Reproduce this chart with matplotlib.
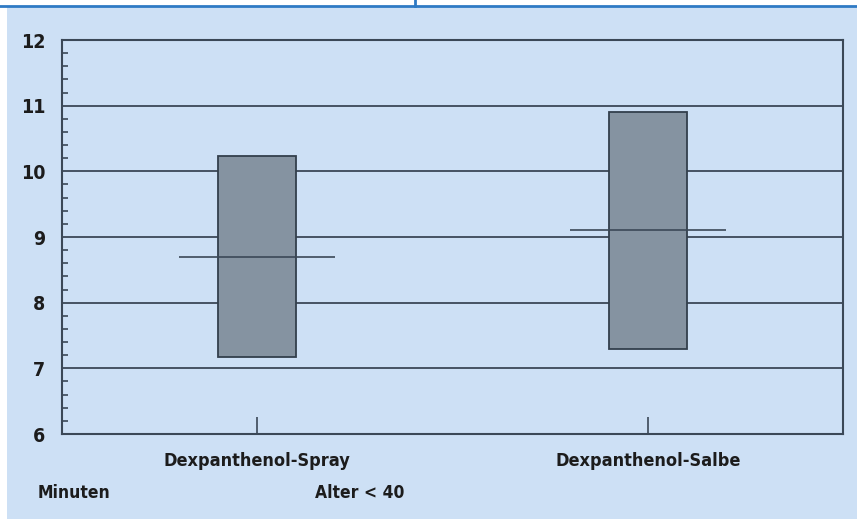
import matplotlib

matplotlib.use("Agg")

import matplotlib.pyplot as plt
from matplotlib.patches import Rectangle
from matplotlib.ticker import MultipleLocator

categories = ["Dexpanthenol-Spray", "Dexpanthenol-Salbe"]
box_low = [7.17, 7.30]
box_high = [10.23, 10.90]
medians = [8.69, 9.11]
y_ticks = [6, 7, 8, 9, 10, 11, 12]

bg = "#cde0f5"
ink = "#1c1c1c"
line_col = "#3b4857"
box_face = "#8593a1"
frame_blue = "#2f7ac4"

plt.rcParams["font.family"] = ["DejaVu Sans"]
plt.rcParams["font.stretch"] = "condensed"

W, H = 857, 519
fig = plt.figure(figsize=(W / 100, H / 100), dpi=100)
fig.patch.set_facecolor("white")

# light blue panel and top rule
fig.patches.append(Rectangle((7 / W, 0), 1 - 7 / W, 1 - 7 / H,
                             transform=fig.transFigure, facecolor=bg,
                             edgecolor="none", zorder=-5))
fig.add_artist(plt.Line2D([0, 1], [1 - 6 / H] * 2, transform=fig.transFigure,
                          color=frame_blue, linewidth=2))
fig.add_artist(plt.Line2D([415 / W] * 2, [1 - 6 / H, 1], transform=fig.transFigure,
                          color=frame_blue, linewidth=2))

left, right, top, bottom = 62, 843, 40, 434
ax = fig.add_axes([left / W, 1 - bottom / H, (right - left) / W, (bottom - top) / H])
ax.set_facecolor("none")
ax.set_zorder(2)

positions = [1, 3]
for pos, lo, hi, med in zip(positions, box_low, box_high, medians):
    ax.bar(pos, hi - lo, bottom=lo, width=0.4, color=box_face,
           edgecolor="#333f4c", linewidth=1.3, zorder=3)
    ax.hlines(med, pos - 0.4, pos + 0.4, color=line_col, linewidth=1.2, zorder=4)

for y in y_ticks[1:-1]:
    ax.axhline(y, color=line_col, linewidth=1.3, zorder=1)

ax.set_xlim(0, 4)
ax.set_ylim(6, 12)
ax.set_yticks(y_ticks)
ax.yaxis.set_minor_locator(MultipleLocator(0.2))
ax.set_xticks(positions)
ax.set_xticklabels(categories)

for s in ax.spines.values():
    s.set_color(line_col)
    s.set_linewidth(1.5)

ax.tick_params(axis="y", which="major", direction="in", length=0, pad=12,
               labelsize=14, labelcolor=ink)
ax.tick_params(axis="y", which="minor", direction="in", length=4, width=1.2,
               color=line_col)
ax.tick_params(axis="x", which="major", direction="in", length=12, width=1.2,
               color=line_col, pad=13, labelsize=13, labelcolor=ink)
for lbl in ax.get_yticklabels() + ax.get_xticklabels():
    lbl.set_fontweight("bold")
    lbl.set_fontstretch("condensed")

fig.text(38 / W, 1 - 493 / H, "Minuten", fontsize=12.5, fontweight="bold",
         fontstretch="condensed", color=ink, ha="left", va="center")
fig.text(315 / W, 1 - 493 / H, "Alter < 40", fontsize=12.5, fontweight="bold",
         fontstretch="condensed", color=ink, ha="left", va="center")

fig.savefig("out.png", dpi=100, facecolor=fig.get_facecolor())
